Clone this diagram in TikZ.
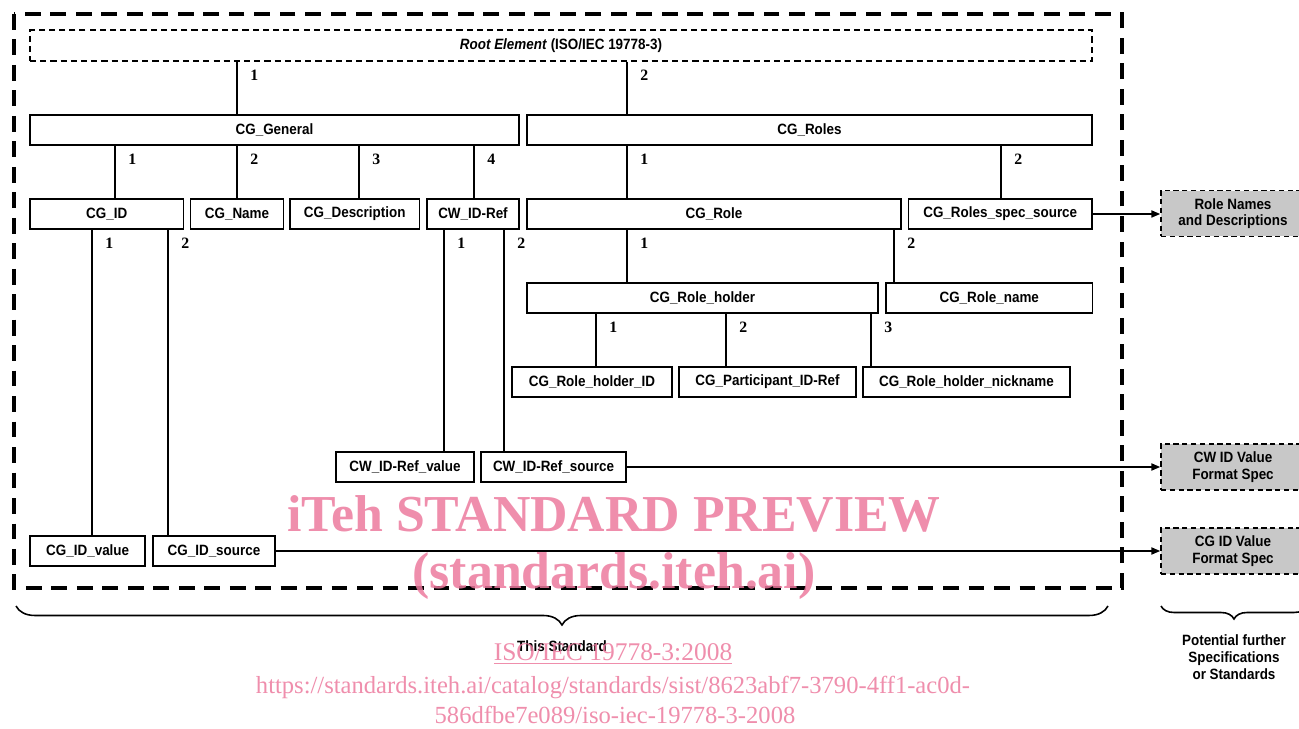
\documentclass[tikz,border=0pt]{standalone}
\usepackage{fontspec}
\setmainfont{Liberation Sans}
\newfontfamily\narrowsans[FakeStretch=0.9]{Liberation Sans}
\newfontfamily\serifnum{Liberation Serif}
\usetikzlibrary{arrows.meta, positioning, decorations.pathreplacing}
\definecolor{specgray}{RGB}{200,200,200}
\definecolor{wmpink}{RGB}{236,122,158}

\begin{document}
\begin{tikzpicture}[
    x=0.02cm, y=-0.02cm,
    element/.style={rectangle, draw, line width=1.1pt, minimum height=0.6cm, inner sep=0pt, font=\narrowsans\bfseries\fontsize{8.5}{10}\selectfont},
    rootbox/.style={rectangle, draw, dash pattern=on 3.5pt off 2.3pt, line width=0.8pt, minimum width=21.24cm, minimum height=0.62cm, font=\narrowsans\bfseries\fontsize{8.5}{10}\selectfont},
    spec/.style={rectangle, draw, dash pattern=on 3pt off 2pt, line width=0.9pt, fill=specgray, minimum width=2.88cm, minimum height=0.92cm, inner sep=0pt, align=center, font=\narrowsans\bfseries\fontsize{8.5}{9.5}\selectfont},
    frame/.style={dash pattern=on 9pt off 5.5pt, line width=2pt},
    link/.style={line width=1.1pt},
    ref/.style={-{Triangle[length=5pt,width=4pt]}, line width=0.9pt},
    card/.style={font=\serifnum\bfseries\fontsize{9}{10}\selectfont, inner sep=0pt, anchor=north west, xshift=7pt, yshift=-4pt},
    brace/.style={decorate, decoration={brace, mirror, amplitude=#1}, line width=0.9pt},
    note/.style={align=center, font=\narrowsans\bfseries\fontsize{8.5}{9.6}\selectfont},
    watermark/.style={text=wmpink, opacity=0.85, inner sep=0pt}
]
    \useasboundingbox (0,0) rectangle (1299,729);

    % scope of this standard
    \draw[frame] (14,14) rectangle (1122,588);

    % root
    \node[rootbox] (root) at (561,45.5) {\textit{Root Element} (ISO/IEC 19778-3)};

    % first level
    \node[element, minimum width=9.78cm] (general) at (274.5,130) {CG\_General};
    \node[element, minimum width=11.3cm] (roles) at (809.5,130) {CG\_Roles};

    % second level
    \node[element, minimum width=3.07cm] (cgid) at (106.75,214) {CG\_ID};
    \node[element, minimum width=1.86cm] (name) at (237,214) {CG\_Name};
    \node[element, minimum width=2.59cm] (descr) at (354.75,214) {CG\_Description};
    \node[element, minimum width=1.84cm] (idref) at (473,214) {CW\_ID-Ref};
    \node[element, minimum width=7.48cm] (role) at (714,214) {CG\_Role};
    \node[element, minimum width=3.67cm] (specsrc) at (1000.25,214) {CG\_Roles\_spec\_source};

    % role details
    \node[element, minimum width=7.02cm] (holder) at (702.5,298) {CG\_Role\_holder};
    \node[element, minimum width=4.13cm] (rolename) at (989.25,298) {CG\_Role\_name};
    \node[element, minimum width=3.2cm] (holderid) at (592,382) {CG\_Role\_holder\_ID};
    \node[element, minimum width=3.54cm] (partref) at (767.5,382) {CG\_Participant\_ID-Ref};
    \node[element, minimum width=4.14cm] (nick) at (966.5,382) {CG\_Role\_holder\_nickname};

    % value / source leaves
    \node[element, minimum width=2.76cm] (refvalue) at (405,467) {CW\_ID-Ref\_value};
    \node[element, minimum width=2.9cm] (refsource) at (553.5,467) {CW\_ID-Ref\_source};
    \node[element, minimum width=2.3cm] (idvalue) at (87.7,551) {CG\_ID\_value};
    \node[element, minimum width=2.45cm] (idsource) at (214,551) {CG\_ID\_source};

    % further specifications
    \node[spec] (rolespec) at (1233,213.5) {Role Names\\and Descriptions};
    \node[spec] (cwspec) at (1233,467) {CW ID Value\\Format Spec};
    \node[spec] (cgspec) at (1233,551) {CG ID Value\\Format Spec};

    % containment with cardinality
    \foreach \parent/\child/\x/\n in {root/general/237/1, root/roles/627/2,
        general/cgid/115/1, general/name/237/2, general/descr/359/3, general/idref/474/4,
        roles/role/627/1, roles/specsrc/1001/2,
        cgid/idvalue/92/1, cgid/idsource/168/2,
        idref/refvalue/444/1, idref/refsource/504/2,
        role/holder/627/1, role/rolename/894/2,
        holder/holderid/596/1, holder/partref/726/2, holder/nick/871/3}
        \draw[link] (\parent.south -| \x,0) node[card] {\n} -- (\child.north -| \x,0);

    % references out of the standard
    \draw[ref] (specsrc.east) -- (specsrc.east -| rolespec.west);
    \draw[ref] (refsource.east) -- (refsource.east -| cwspec.west);
    \draw[ref] (idsource.east) -- (idsource.east -| cgspec.west);

    % braces
    \draw[brace=10.8pt] (16,606) -- (1108,606);
    \node[note] (thisstd) at (562,646) {This Standard};
    \draw[brace=7.4pt] (1161,606) -- (1307,606);
    \node[note] (further) at (1234,657) {Potential further\\Specifications\\or Standards};

    % watermark
    \node[watermark, font=\serifnum\bfseries\fontsize{29.5}{34}\selectfont] (wm1) at (614,514) {iTeh STANDARD PREVIEW};
    \node[watermark, font=\serifnum\bfseries\fontsize{29.5}{34}\selectfont] (wm2) at (614,576) {(standards.iteh.ai)};
    \node[watermark, font=\serifnum\fontsize{14.5}{16}\selectfont] (wm3) at (613,654) {\underline{ISO/IEC 19778-3:2008}};
    \node[watermark, font=\serifnum\fontsize{14}{16}\selectfont] (wm4) at (613,687) {https://standards.iteh.ai/catalog/standards/sist/8623abf7-3790-4ff1-ac0d-};
    \node[watermark, font=\serifnum\fontsize{14}{16}\selectfont] (wm5) at (615,715) {586dfbe7e089/iso-iec-19778-3-2008};
\end{tikzpicture}
\end{document}
